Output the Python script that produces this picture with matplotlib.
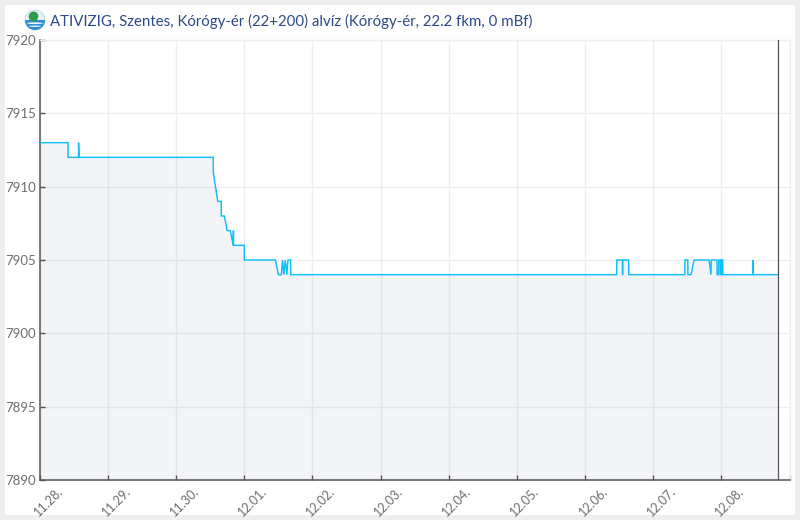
import matplotlib
matplotlib.use("Agg")
import matplotlib.pyplot as plt
from matplotlib.patches import Rectangle, Circle, Wedge, Ellipse

W, H = 800, 520
plt.rcParams['font.family'] = ['Lato', 'DejaVu Sans']

title = "ATIVIZIG, Szentes, Kórógy-ér (22+200) alvíz (Kórógy-ér, 22.2 fkm, 0 mBf)"
tick_labels = ["11.28.", "11.29.", "11.30.", "12.01.", "12.02.", "12.03.",
               "12.04.", "12.05.", "12.06.", "12.07.", "12.08."]
y_ticks = [7890, 7895, 7900, 7905, 7910, 7915, 7920]

# days since 11.28. 00:00 and water level
days = [0.007, 0.412, 0.412, 0.566, 0.566, 0.574, 2.544, 2.544, 2.610, 2.662, 2.662,
        2.706, 2.750, 2.794, 2.838, 2.840, 2.842, 3.000, 3.000, 3.456, 3.500, 3.544,
        3.560, 3.580, 3.600, 3.625, 3.640, 3.680, 3.682, 8.468, 8.470,
        8.552, 8.553, 8.556, 8.557, 8.644, 8.646, 9.468, 9.470, 9.512, 9.514, 9.559,
        9.603, 9.824, 9.853, 9.856, 9.941, 9.943, 9.965, 9.967, 9.990, 9.992, 10.005,
        10.007, 10.025, 10.027, 10.472, 10.473, 10.475, 10.835]
level = [7913, 7913, 7912, 7912, 7913, 7912, 7912, 7911, 7909, 7909, 7908,
         7908, 7907, 7907, 7906, 7907, 7906, 7906, 7905, 7905, 7904, 7904,
         7905, 7904, 7905, 7904, 7905, 7905, 7904, 7904, 7905,
         7905, 7904, 7904, 7905, 7905, 7904, 7904, 7905, 7905, 7904, 7904,
         7905, 7905, 7904, 7905, 7905, 7904, 7904, 7905, 7905, 7904, 7904,
         7905, 7905, 7904, 7904, 7905, 7904, 7904]
cursor_day = 10.835
x_end = 11.013

fig = plt.figure(figsize=(W / 100, H / 100), dpi=100, facecolor="#eeeeee")
fig.add_artist(Rectangle((5 / W, 5 / H), 790 / W, 510 / H, transform=fig.transFigure,
                         facecolor="white", edgecolor="none", zorder=-5))

ax = fig.add_axes([40.0 / W, 40.0 / H, 750 / W, 440 / H])
ax.set_facecolor("none")
ax.set_xlim(0, x_end)
ax.set_ylim(7890, 7920)

ax.set_xticks(list(range(len(tick_labels))) + [x_end])
ax.set_xticklabels([""] * (len(tick_labels) + 1))
ax.set_yticks(y_ticks)
ax.set_yticklabels([str(v) for v in y_ticks], fontsize=9.5, color="#6e6e6e")
ax.grid(True, color="#eeeeee", linewidth=1)
ax.set_axisbelow(True)
ax.tick_params(axis="both", direction="in", length=3.6, width=1, color="#555555")
ax.tick_params(axis="y", pad=3)

for s in ("top", "right"):
    ax.spines[s].set_color("#eeeeee")
    ax.spines[s].set_linewidth(1)
for s in ("left", "bottom"):
    ax.spines[s].set_color("#555555")
    ax.spines[s].set_linewidth(1.1)

ax.fill_between(days, level, 7890, color="#00237f", alpha=0.048, linewidth=0, zorder=2)
ax.plot(days, level, color="#0fbff5", linewidth=1.05, solid_joinstyle="miter", zorder=3)
ax.axvline(cursor_day, color="#555555", linewidth=0.9, zorder=4)

for i, lab in enumerate(tick_labels):
    ax.annotate(lab, xy=(i, 7890), xycoords="data", xytext=(6.0, -15.5),
                textcoords="offset points", rotation=45, ha="center", va="center",
                fontsize=9.1, color="#6e6e6e", annotation_clip=False)

fig.text(50 / W, 1 - 21 / H, title, fontsize=10.77, color="#2c4a86", va="center", ha="left")

# small round logo beside the title
logo = fig.add_axes([24 / W, 1 - 31 / H, 22 / W, 22 / H])
logo.set_xlim(-11, 11)
logo.set_ylim(-11, 11)
logo.axis("off")
logo.add_patch(Circle((0, 0), 10, facecolor="#e6f1f4", edgecolor="#b9d5df", linewidth=0.6))
logo.add_patch(Wedge((0, 0), 10, 180, 360, facecolor="#2f8fd0", edgecolor="none"))
logo.add_patch(Ellipse((-1.5, 3.5), 9.5, 10, angle=-25, facecolor="#2e9b4b", edgecolor="none"))
logo.add_patch(Ellipse((0, -3.2), 16, 1.6, facecolor="white", edgecolor="none"))
logo.add_patch(Ellipse((0, -6.2), 12, 1.3, facecolor="white", edgecolor="none"))

fig.savefig("out.png", dpi=100, facecolor=fig.get_facecolor())
